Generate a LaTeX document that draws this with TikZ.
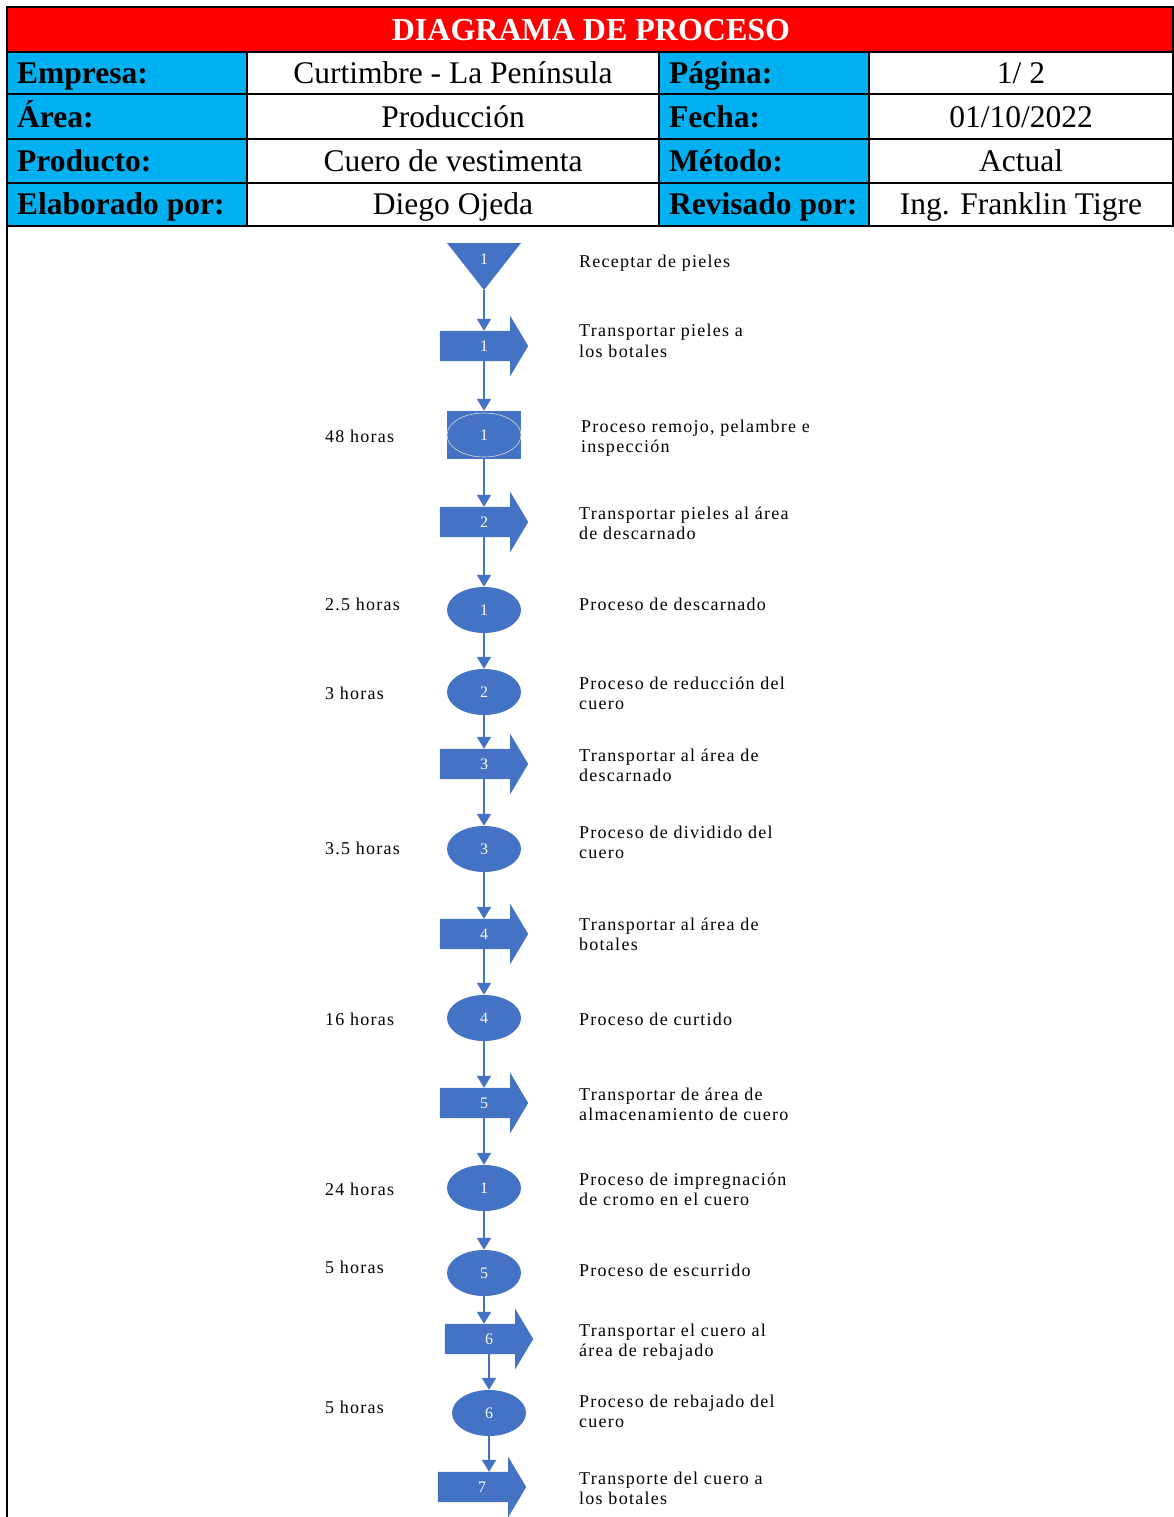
\documentclass[tikz,border=0pt]{standalone}
\usepackage{fontspec}
\setmainfont{Liberation Serif}
\newfontfamily\flowfont[LetterSpace=7]{Liberation Serif}
\usetikzlibrary{shapes.geometric,arrows.meta,backgrounds}

\definecolor{procblue}{HTML}{4472C4}
\definecolor{headred}{HTML}{FF0000}
\definecolor{headcyan}{HTML}{00B0F0}

% two stacked lines, baseline on the first one
\newcommand\twoline[2]{\begin{tabular}[t]{@{}l@{}}#1\\#2\end{tabular}}

% transport symbol: block arrow pointing right, number centred on the whole shape
\newcommand\transportshape[4]{%
  \node[transport] (#1) at (#2,#3) {#4};
  \begin{pgfonlayer}{background}
    \fill[procblue] (#1.south west) -- (#1.north west)
      -- ([xshift=-18pt]#1.north east) -- ([xshift=-18pt,yshift=15pt]#1.north east)
      -- (#1.east)
      -- ([xshift=-18pt,yshift=-15pt]#1.south east) -- ([xshift=-18pt]#1.south east)
      -- cycle;
  \end{pgfonlayer}}

\tikzset{
  gridline/.style={line width=2pt,black},
  headlabel/.style={anchor=base west,inner sep=0,font=\fontsize{31.5}{36}\selectfont\bfseries},
  headvalue/.style={anchor=base,inner sep=0,font=\fontsize{31.5}{36}\selectfont},
  opnum/.style={text=white,font=\fontsize{16}{18}\selectfont,inner sep=0},
  operation/.style={opnum,ellipse,fill=procblue,minimum width=74pt,minimum height=46pt},
  transport/.style={opnum,rectangle,minimum width=88pt,minimum height=30pt},
  flowtext/.style={anchor=base west,inner sep=0,font=\flowfont\fontsize{18}{20.5}\selectfont},
  conn/.style={procblue,line width=2pt,-{Triangle[width=14pt,length=12pt]}},
}

\begin{document}
\begin{tikzpicture}[x=1pt,y=-1pt]
\useasboundingbox (0,0) rectangle (1174,1517);

% ---------- header table ----------
\fill[headred] (7,7) rectangle (1173,52);
\fill[headcyan] (7,52) rectangle (247,225.5);
\fill[headcyan] (659,52) rectangle (869,225.5);
\foreach \yy in {7,52,94.5,139,183.5,225.5}
  \draw[gridline] (7,\yy) -- (1173,\yy);
\draw[gridline] (7,6) -- (7,1517);
\draw[gridline] (1173,6) -- (1173,226.5);
\foreach \xx in {247,659,869}
  \draw[gridline] (\xx,52) -- (\xx,225.5);

\node[anchor=base,inner sep=0,text=white,font=\fontsize{32}{36}\selectfont\bfseries] (title) at (591,40.1) {DIAGRAMA DE PROCESO};

\node[headlabel] (lblEmpresa) at (17,83.7) {Empresa:};
\node[headlabel] (lblArea) at (17,127.2) {Área:};
\node[headlabel] (lblProducto) at (17,171.6) {Producto:};
\node[headlabel] (lblElaborado) at (17,214.9) {Elaborado por:};
\node[headvalue] (valEmpresa) at (453,83.7) {Curtimbre - La Península};
\node[headvalue] (valArea) at (453,127.2) {Producción};
\node[headvalue] (valProducto) at (453,171.6) {Cuero de vestimenta};
\node[headvalue] (valElaborado) at (453,214.9) {Diego Ojeda};
\node[headlabel] (lblPagina) at (669,83.7) {Página:};
\node[headlabel] (lblFecha) at (669,127.2) {Fecha:};
\node[headlabel] (lblMetodo) at (669,171.6) {Método:};
\node[headlabel] (lblRevisado) at (669,214.9) {Revisado por:};
\node[headvalue] (valPagina) at (1021,83.7) {1/ 2};
\node[headvalue] (valFecha) at (1021,127.2) {01/10/2022};
\node[headvalue] (valMetodo) at (1021,171.6) {Actual};
\node[headvalue] (valRevisado) at (1021,214.9) {Ing. Franklin Tigre};

% ---------- process symbols ----------
\coordinate (recvTip) at (484,290);
\fill[procblue] (447,243) -- (521,243) -- (recvTip) -- cycle;
\node[opnum] (recv) at (484,259) {1};

\transportshape{tr1}{484}{346}{1}

\node[rectangle,fill=procblue,minimum width=74pt,minimum height=48pt,inner sep=0] (soakbox) at (484,435) {};
\node[operation,minimum height=44pt,draw=white!70!gray,line width=0.6pt] (soak) at (484,435) {1};

\transportshape{tr2}{484}{522}{2}
\node[operation] (op1) at (484,610) {1};
\node[operation] (op2) at (484,692) {2};
\transportshape{tr3}{484}{764}{3}
\node[operation] (op3) at (484,849) {3};
\transportshape{tr4}{484}{934}{4}
\node[operation] (op4) at (484,1018) {4};
\transportshape{tr5}{484}{1103}{5}
\node[operation] (op1b) at (484,1188) {1};
\node[operation] (op5) at (484,1273) {5};
\transportshape{tr6}{489}{1339}{6}
\node[operation] (op6) at (489,1413) {6};
\transportshape{tr7}{482}{1487}{7}

% ---------- connectors ----------
\draw[conn] (recvTip) -- (recvTip |- tr1.north);
\foreach \a/\b in {tr1/soakbox,soakbox/tr2,tr2/op1,op1/op2,op2/tr3,tr3/op3,op3/tr4,
                   tr4/op4,op4/tr5,tr5/op1b,op1b/op5,op5/tr6,tr6/op6,op6/tr7}
  \draw[conn] (\a.south) -- (\a.south |- \b.north);

% ---------- descriptions ----------
\node[flowtext] (d1) at (579,267) {Receptar de pieles};
\node[flowtext] (d2) at (579,336.5) {\twoline{Transportar pieles a}{los botales}};
\node[flowtext] (d3) at (581,432) {\twoline{Proceso remojo, pelambre e}{inspección}};
\node[flowtext] (d4) at (579,519) {\twoline{Transportar pieles al área}{de descarnado}};
\node[flowtext] (d5) at (579,610) {Proceso de descarnado};
\node[flowtext] (d6) at (579,689) {\twoline{Proceso de reducción del}{cuero}};
\node[flowtext] (d7) at (579,761) {\twoline{Transportar al área de}{descarnado}};
\node[flowtext] (d8) at (579,838) {\twoline{Proceso de dividido del}{cuero}};
\node[flowtext] (d9) at (579,930) {\twoline{Transportar al área de}{botales}};
\node[flowtext] (d10) at (579,1025) {Proceso de curtido};
\node[flowtext] (d11) at (579,1100) {\twoline{Transportar de área de}{almacenamiento de cuero}};
\node[flowtext] (d12) at (579,1185) {\twoline{Proceso de impregnación}{de cromo en el cuero}};
\node[flowtext] (d13) at (579,1276) {Proceso de escurrido};
\node[flowtext] (d14) at (579,1336) {\twoline{Transportar el cuero al}{área de rebajado}};
\node[flowtext] (d15) at (579,1407) {\twoline{Proceso de rebajado del}{cuero}};
\node[flowtext] (d16) at (579,1484) {\twoline{Transporte del cuero a}{los botales}};

% ---------- durations ----------
\node[flowtext] (t1) at (325,442) {48 horas};
\node[flowtext] (t2) at (325,610) {2.5 horas};
\node[flowtext] (t3) at (325,699) {3 horas};
\node[flowtext] (t4) at (325,854) {3.5 horas};
\node[flowtext] (t5) at (325,1025) {16 horas};
\node[flowtext] (t6) at (325,1195) {24 horas};
\node[flowtext] (t7) at (325,1273) {5 horas};
\node[flowtext] (t8) at (325,1413) {5 horas};
\end{tikzpicture}
\end{document}
